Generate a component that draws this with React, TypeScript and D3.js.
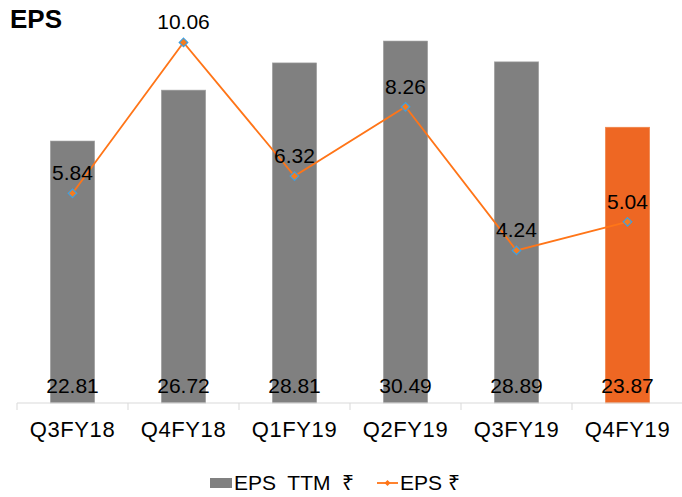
import React from "react";
import * as d3 from "d3";

const categories = ["Q3FY18", "Q4FY18", "Q1FY19", "Q2FY19", "Q3FY19", "Q4FY19"];
const epsTTM = [22.81, 26.72, 28.81, 30.49, 28.89, 23.87];
const eps = [5.84, 10.06, 6.32, 8.26, 4.24, 5.04];
const highlighted = ["Q4FY19"];

const W = 682;
const H = 497;
const FONT = "'Liberation Sans', Arial, sans-serif";

export default function App() {
  const axisY = 403;
  const x = d3.scaleBand<string>().domain(categories).range([17, 683]).padding(0);
  const barW = x.bandwidth() * 0.4;
  // primary (bars) and secondary (line) value scales
  const yBar = d3.scaleLinear().domain([0, 35]).range([438, 438 - 35 * 13.02]);
  const yLine = d3.scaleLinear().domain([0, 10]).range([402, 402 - 357.4]);
  const cx = (c: string) => (x(c) as number) + x.bandwidth() / 2;

  const line = d3
    .line<number>()
    .x((_, i) => cx(categories[i]))
    .y((d) => yLine(d));

  const diamond = (px: number, py: number, r: number) =>
    `M${px},${py - r}L${px + r},${py}L${px},${py + r}L${px - r},${py}Z`;

  return (
    <div style={{ position: "fixed", left: 0, top: 0 }}>
      <svg width={W} height={H} style={{ display: "block", background: "#fff" }} fontFamily={FONT}>
        <text x={10} y={28} fontSize={26} fontWeight="bold" fill="#000">EPS</text>

        {categories.map((c, i) => (
          <rect
            key={c}
            x={cx(c) - barW / 2}
            y={yBar(epsTTM[i])}
            width={barW}
            height={axisY - yBar(epsTTM[i])}
            fill={highlighted.includes(c) ? "#EE6723" : "#808080"}
            stroke={highlighted.includes(c) ? "#F08A50" : "#A6A6A6"}
            strokeWidth={0.6}
          />
        ))}

        <line x1={17} x2={682} y1={axisY} y2={axisY} stroke="#D9D9D9" strokeWidth={1} />
        {categories.concat([""]).map((c, i) => {
          const tx = 17 + i * x.step();
          return <line key={i} x1={tx} x2={tx} y1={axisY} y2={axisY + 7} stroke="#D9D9D9" />;
        })}

        {categories.map((c, i) => (
          <text key={c} x={cx(c)} y={393} textAnchor="middle" fontSize={21} fill="#000">
            {epsTTM[i].toFixed(2)}
          </text>
        ))}

        <path d={line(eps) || ""} fill="none" stroke="#FF7518" strokeWidth={1.8} />
        {eps.map((v, i) => (
          <path
            key={i}
            d={diamond(cx(categories[i]), yLine(v), 4.3)}
            fill="#F57C1F"
            stroke="#3E9FE0"
            strokeWidth={1.2}
          />
        ))}
        {eps.map((v, i) => (
          <text
            key={i}
            x={cx(categories[i])}
            y={yLine(v) - 13}
            textAnchor="middle"
            fontSize={21}
            fill="#000"
          >
            {v.toFixed(2)}
          </text>
        ))}

        {categories.map((c) => (
          <text key={c} x={cx(c)} y={437} textAnchor="middle" fontSize={22} letterSpacing={0.6} fill="#000">
            {c}
          </text>
        ))}

        <g>
          <rect x={210} y={478} width={22} height={10} fill="#808080" />
          <text x={234} y={490} fontSize={21} fill="#000" style={{ whiteSpace: "pre" }}>
            {"EPS  TTM  ₹"}
          </text>
          <line x1={377} x2={398} y1={483} y2={483} stroke="#FF7518" strokeWidth={1.8} />
          <path d={diamond(387.5, 483, 3)} fill="#FF7518" />
          <text x={400} y={490} fontSize={21} fill="#000" style={{ whiteSpace: "pre" }}>
            {"EPS ₹"}
          </text>
        </g>
      </svg>
    </div>
  );
}
